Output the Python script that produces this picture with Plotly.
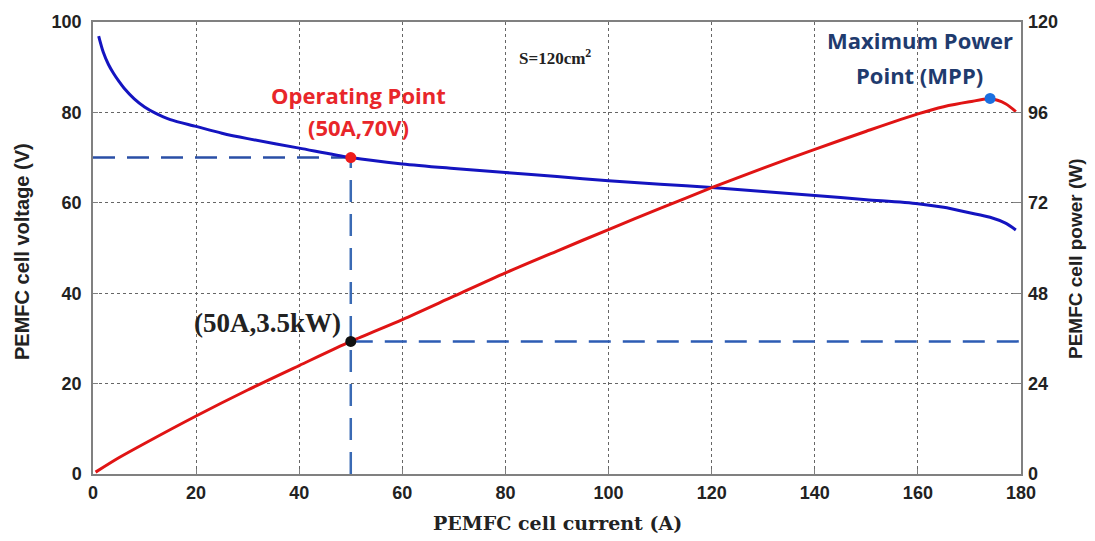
import plotly.graph_objects as go

# Voltage curve (left axis)
current_v = [1.1, 2, 3, 4, 5, 6, 8, 10, 12, 15, 20, 25, 30, 40, 50, 60, 70, 80, 90, 100,
             110, 120, 130, 140, 150, 160, 165, 170, 174, 177, 179]
voltage = [96.9, 93.3, 90.6, 88.6, 86.9, 85.4, 83.0, 81.2, 79.9, 78.4, 76.9, 75.4, 74.2,
           72.1, 70, 68.6, 67.6, 66.7, 65.8, 64.9, 64.1, 63.4, 62.5, 61.6, 60.7, 59.8,
           59.0, 57.8, 56.8, 55.5, 54]

# Power curve (right axis)
current_p = [0.5, 5, 10, 20, 30, 40, 50, 60, 70, 80, 90, 100, 110, 120, 130, 140, 150,
             160, 165, 170, 174, 177, 179]
power = [0.5, 4.3, 8.1, 15.4, 22.3, 28.8, 35.2, 41, 47.2, 53.4, 59.2, 64.9, 70.5, 76,
         81.2, 86.2, 91, 95.6, 97.5, 98.8, 99.6, 98.3, 96.2]

op_current = [50]
op_voltage = [70]
op_power = [35.2]
mpp_current = [174]
mpp_power = [99.7]

x_ticks = [0, 20, 40, 60, 80, 100, 120, 140, 160, 180]
y_ticks = [0, 20, 40, 60, 80, 100]
y2_ticks = [0, 24, 48, 72, 96, 120]

# plot area in page pixels (page body has an 8px margin)
OFF = 8
L, R, T, B = 93, 1021, 22, 474
W = R - L
H = B - T
FIG_W, FIG_H = 1095 - OFF, 541 - OFF


def px(x):
    return (x - L) / W


def py(y):
    return (B - y) / H


dash_style = "22px,12px"

fig = go.Figure()

fig.add_trace(go.Scatter(x=[0, op_current[0]], y=[op_voltage[0], op_voltage[0]], mode="lines",
                         line=dict(color="#2a4fa6", width=2.5, dash=dash_style), showlegend=False))
fig.add_trace(go.Scatter(x=[op_current[0], op_current[0]], y=[0, op_voltage[0]], mode="lines",
                         line=dict(color="#3a6ab4", width=2.5, dash=dash_style), showlegend=False))
fig.add_trace(go.Scatter(x=[op_current[0], 180], y=[op_power[0], op_power[0]], mode="lines",
                         line=dict(color="#2d5cb4", width=2.5, dash=dash_style), showlegend=False,
                         yaxis="y2"))

fig.add_trace(go.Scatter(x=current_v, y=voltage, mode="lines",
                         line=dict(color="#1414c0", width=3, shape="spline", smoothing=0.8),
                         showlegend=False))
fig.add_trace(go.Scatter(x=current_p, y=power, mode="lines",
                         line=dict(color="#e01414", width=3, shape="spline", smoothing=0.8),
                         showlegend=False, yaxis="y2"))

fig.add_trace(go.Scatter(x=op_current, y=op_voltage, mode="markers",
                         marker=dict(color="#ee1c1c", size=11), showlegend=False))
fig.add_trace(go.Scatter(x=op_current, y=op_power, mode="markers",
                         marker=dict(color="#111111", size=11), showlegend=False, yaxis="y2"))
fig.add_trace(go.Scatter(x=mpp_current, y=mpp_power, mode="markers",
                         marker=dict(color="#1a6fe0", size=11), showlegend=False, yaxis="y2"))

tickfont = dict(family="Liberation Sans", size=18, color="#222", weight="bold")
axis_common = dict(showline=True, linecolor="#808080", linewidth=1.5, mirror=True,
                   showgrid=True, gridcolor="#666", griddash="dot", gridwidth=1,
                   ticks="inside", ticklen=5, tickcolor="#808080", zeroline=False,
                   tickfont=tickfont, automargin=False)

fig.update_layout(
    width=FIG_W, height=FIG_H,
    margin=dict(l=L - OFF, r=1095 - R, t=T - OFF, b=541 - B, autoexpand=False),
    paper_bgcolor="white", plot_bgcolor="white",
    xaxis=dict(range=[0, 180], tickvals=x_ticks, **axis_common, ticklabelstandoff=2),
    yaxis=dict(range=[0, 100], tickvals=y_ticks, **axis_common, ticklabelstandoff=6),
    yaxis2=dict(range=[0, 120], tickvals=y2_ticks, overlaying="y", side="right",
                showline=False, showgrid=False, ticks="inside", ticklen=8, tickcolor="#808080",
                zeroline=False, tickfont=tickfont, automargin=False, ticklabelstandoff=6),
    font=dict(family="Liberation Sans"),
)


def label(x, y, text, family, size, color, angle=0):
    fig.add_annotation(xref="paper", yref="paper", x=px(x), y=py(y), text=text,
                       showarrow=False, xanchor="center", yanchor="middle", textangle=angle,
                       font=dict(family=family, size=size, color=color))


# axis titles
label(557, 523, "<b>PEMFC cell current (A)</b>", "DejaVu Serif", 19, "#222")
label(22, 252, "<b>PEMFC cell voltage (V)</b>", "Liberation Sans", 20, "#222", -90)
label(1075, 259, "<b>PEMFC cell power (W)</b>", "Liberation Sans", 19, "#222", -90)

# in-plot labels
label(358, 95, "<b>Operating Point</b>", "Open Sans", 22, "#e8262a")
label(358, 127, "<b>(50A,70V)</b>", "Open Sans", 22, "#e8262a")
label(920, 40, "<b>Maximum Power</b>", "Open Sans", 22, "#1f3b6e")
label(919, 75, "<b>Point (MPP)</b>", "Open Sans", 22, "#1f3b6e")
label(555, 57, "<b>S=120cm<sup>2</sup></b>", "Liberation Serif", 17, "#222")
label(267, 323, "<b>(50A,3.5kW)</b>", "Liberation Serif", 27, "#222")

fig.write_html("out.html")
